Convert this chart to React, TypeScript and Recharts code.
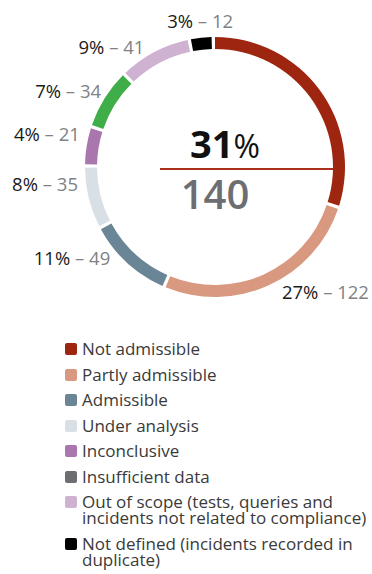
import React from "react";
import { Label, Pie, PieChart, Cell } from "recharts";

const categories = [
  "Not admissible",
  "Partly admissible",
  "Admissible",
  "Under analysis",
  "Inconclusive",
  "Insufficient data",
  "Out of scope (tests, queries and incidents not related to compliance)",
  "Not defined (incidents recorded in duplicate)",
];
const counts = [140, 122, 49, 35, 21, 34, 41, 12];
const percentLabels = ["31%", "27%", "11%", "8%", "4%", "7%", "9%", "3%"];

const sliceColors = [
  "#9e2610", // dark red
  "#d99880", // salmon
  "#6a8595", // slate
  "#d8e0e6", // pale blue grey
  "#a977ae", // purple
  "#3fae49", // green
  "#cfb1d1", // lilac
  "#000000", // black
];
const legendColors = [
  "#9e2610",
  "#d99880",
  "#6a8595",
  "#d8e0e6",
  "#a977ae",
  "#6d6e71",
  "#cfb1d1",
  "#000000",
];

// small nudges so the labels sit where the original placed them
const labelNudge: Record<number, [number, number, string]> = {
  1: [9, -3, "start"],
  2: [-10, -13, "end"],
  3: [-1, -17, "end"],
  4: [3, -11, "end"],
  5: [5, -3, "end"],
  6: [-5, 3, "end"],
  7: [0, -8, "middle"],
};

const FONT = "'Open Sans', sans-serif";
const RAD = Math.PI / 180;

const chartData = categories.map((name, i) => ({
  name,
  value: counts[i],
  pct: percentLabels[i],
  idx: i,
}));

const renderLabel = (props: any) => {
  const { cx, cy, midAngle, outerRadius, index } = props;
  const d = chartData[index];
  if (d.idx === 0) return null;
  const r = outerRadius + 10;
  const nudge = labelNudge[d.idx] || [0, 0, "middle"];
  const x = cx + r * Math.cos(-midAngle * RAD) + nudge[0];
  const y = cy + r * Math.sin(-midAngle * RAD) + nudge[1];
  return (
    <text
      x={x}
      y={y}
      textAnchor={nudge[2] as any}
      dominantBaseline="central"
      fontFamily={FONT}
      fontSize={18.5}
    >
      <tspan fill="#1a1a1a">{d.pct}</tspan>
      <tspan fill="#808285">{" \u2013 " + d.value}</tspan>
    </text>
  );
};

const CenterLabel = (props: any) => {
  const vb = props.viewBox || {};
  const cx = vb.cx ?? 215;
  const cy = vb.cy ?? 167;
  const inner = vb.innerRadius ?? 118;
  return (
    <g>
      <text x={cx - 25} y={cy - 9} fontFamily={FONT} fill="#111">
        <tspan fontSize={38} fontWeight={700}>
          {percentLabels[0].replace("%", "")}
        </tspan>
        <tspan fontSize={32}>%</tspan>
      </text>
      <line
        x1={cx - 55}
        x2={cx + inner}
        y1={cy + 2}
        y2={cy + 2}
        stroke="#a8301a"
        strokeWidth={2}
      />
      <text
        x={cx}
        y={cy + 42}
        textAnchor="middle"
        fontFamily={FONT}
        fontSize={40}
        fontWeight={600}
        fill="#6d6e71"
      >
        {counts[0]}
      </text>
    </g>
  );
};

const LegendBlock = () => (
  <div
    style={{
      position: "absolute",
      left: 65,
      top: 341,
      width: 307,
      fontFamily: FONT,
      fontSize: 17,
      color: "#3a3a3a",
    }}
  >
    {categories.map((c, i) => (
      <div
        key={c}
        style={{ display: "flex", alignItems: "flex-start", marginBottom: 9.5 }}
      >
        <span
          style={{
            width: 12,
            height: 12,
            borderRadius: 2,
            background: legendColors[i],
            marginTop: 2,
            marginRight: 5,
            flex: "none",
          }}
        />
        <span style={{ lineHeight: "16px", width: 292 }}>{c}</span>
      </div>
    ))}
  </div>
);

export default function App() {
  return (
    <div
      style={{
        position: "absolute",
        left: 0,
        top: 0,
        width: 372,
        height: 574,
        background: "#fff",
      }}
    >
      <PieChart
        width={372}
        height={330}
        margin={{ top: 0, right: 0, bottom: 0, left: 0 }}
      >
        <Pie
          data={chartData}
          dataKey="value"
          cx={215}
          cy={167}
          innerRadius={118}
          outerRadius={130}
          startAngle={90}
          endAngle={-270}
          paddingAngle={1.5}
          stroke="none"
          label={renderLabel}
          labelLine={false}
          isAnimationActive={false}
        >
          {chartData.map((d) => (
            <Cell key={d.name} fill={sliceColors[d.idx]} />
          ))}
          <Label position="center" content={CenterLabel} />
        </Pie>
      </PieChart>
      <LegendBlock />
    </div>
  );
}
